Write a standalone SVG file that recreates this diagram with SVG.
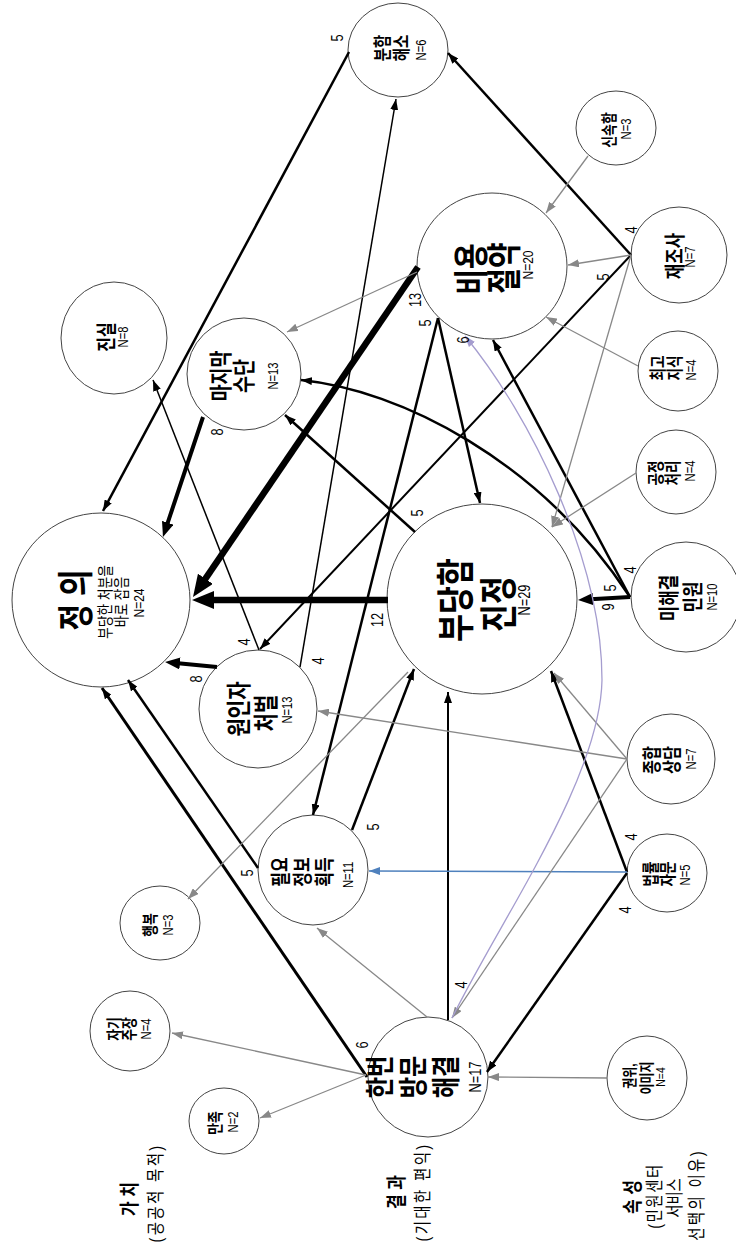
<svg xmlns="http://www.w3.org/2000/svg" width="736" height="1248" viewBox="0 0 736 1248">
<style>
.k{font-family:"Liberation Sans","Noto Sans CJK KR",sans-serif;font-weight:700;text-anchor:middle;fill:#000}
.r{font-family:"Liberation Sans","Noto Sans CJK KR",sans-serif;font-weight:400;text-anchor:middle;fill:#000}
.n{font-family:"Liberation Sans",sans-serif;text-anchor:middle;fill:#000}
.el{font-family:"Liberation Sans",sans-serif;font-size:16px;text-anchor:middle;fill:#000}
.nd{fill:#fff;stroke:#444;stroke-width:1}
.c{fill:none;stroke:#000;stroke-width:2.5}
.g{fill:none;stroke:#888;stroke-width:1.3}
</style>
<defs>
<marker id="ah" viewBox="0 0 11 8" refX="11" refY="4" markerWidth="11" markerHeight="8" markerUnits="userSpaceOnUse" orient="auto"><path d="M0,0 L11,4 L0,8 z" fill="#000"/></marker>
<marker id="ahM" viewBox="0 0 15 12" refX="7" refY="6" markerWidth="15" markerHeight="12" markerUnits="userSpaceOnUse" orient="auto"><path d="M0,0 L15,6 L0,12 z" fill="#000"/></marker>
<marker id="ahB" viewBox="0 0 22 18" refX="8" refY="9" markerWidth="22" markerHeight="18" markerUnits="userSpaceOnUse" orient="auto"><path d="M0,0 L22,9 L0,18 z" fill="#000"/></marker>
<marker id="ahG" viewBox="0 0 11 8" refX="11" refY="4" markerWidth="11" markerHeight="8" markerUnits="userSpaceOnUse" orient="auto"><path d="M0,0 L11,4 L0,8 z" fill="#888"/></marker>
<marker id="ahBl" viewBox="0 0 11 8" refX="11" refY="4" markerWidth="11" markerHeight="8" markerUnits="userSpaceOnUse" orient="auto"><path d="M0,0 L11,4 L0,8 z" fill="#4f81bd"/></marker>
<marker id="ahP" viewBox="0 0 11 8" refX="11" refY="4" markerWidth="11" markerHeight="8" markerUnits="userSpaceOnUse" orient="auto"><path d="M0,0 L11,4 L0,8 z" fill="#a59dcf"/></marker>
</defs>
<rect width="736" height="1248" fill="#fff"/>

<g id="node-jeongui"><ellipse class="nd" cx="101" cy="600" rx="89" ry="87"/>
<text class="k" font-size="36" transform="translate(89,600) rotate(-90) scale(0.8,1)">정 의</text>
<text class="r" font-size="16" transform="translate(111,602) rotate(-90) scale(0.8,1)">부당한 처분을</text>
<text class="r" font-size="16" transform="translate(127,602) rotate(-90) scale(0.8,1)">바로 잡음</text>
<text class="n" font-size="15" transform="translate(144,603) rotate(-90) scale(0.8,1)">N=24</text></g>

<g id="node-jinsil"><ellipse class="nd" cx="114" cy="338" rx="53" ry="56"/>
<text class="k" font-size="20" transform="translate(114,337) rotate(-90) scale(0.8,1)">진실</text>
<text class="n" font-size="14" transform="translate(128,337) rotate(-90) scale(0.8,1)">N=8</text></g>

<g id="node-majimak"><ellipse class="nd" cx="244" cy="374" rx="57" ry="56"/>
<text class="k" font-size="23" transform="translate(229,376) rotate(-90) scale(0.8,1)">마지막</text>
<text class="k" font-size="23" transform="translate(252,376) rotate(-90) scale(0.8,1)">수단</text>
<text class="n" font-size="14" transform="translate(278,376) rotate(-90) scale(0.8,1)">N=13</text></g>

<g id="node-bunham"><ellipse class="nd" cx="398" cy="50" rx="50" ry="47"/>
<text class="k" font-size="18" transform="translate(389,48) rotate(-90) scale(0.8,1)">분함</text>
<text class="k" font-size="18" transform="translate(408,48) rotate(-90) scale(0.8,1)">해소</text>
<text class="n" font-size="14" transform="translate(426,50) rotate(-90) scale(0.8,1)">N=6</text></g>

<g id="node-wonin"><ellipse class="nd" cx="258" cy="709" rx="59" ry="59"/>
<text class="k" font-size="25" transform="translate(248,709) rotate(-90) scale(0.8,1)">원인자</text>
<text class="k" font-size="25" transform="translate(275,713) rotate(-90) scale(0.8,1)">처벌</text>
<text class="n" font-size="14" transform="translate(292,710) rotate(-90) scale(0.8,1)">N=13</text></g>

<g id="node-piryo"><ellipse class="nd" cx="313" cy="870" rx="55" ry="55"/>
<text class="k" font-size="20" transform="translate(288,872) rotate(-90) scale(0.8,1)">필요</text>
<text class="k" font-size="20" transform="translate(310,872) rotate(-90) scale(0.8,1)">정보</text>
<text class="k" font-size="20" transform="translate(332,872) rotate(-90) scale(0.8,1)">획득</text>
<text class="n" font-size="14" transform="translate(353,875) rotate(-90) scale(0.8,1)">N=11</text></g>

<g id="node-haengbok"><ellipse class="nd" cx="160" cy="923" rx="40" ry="37"/>
<text class="k" font-size="16" transform="translate(156,925) rotate(-90) scale(0.8,1)">행복</text>
<text class="n" font-size="14" transform="translate(173,925) rotate(-90) scale(0.8,1)">N=3</text></g>

<g id="node-jagi"><ellipse class="nd" cx="130" cy="1031" rx="40" ry="40"/>
<text class="k" font-size="16" transform="translate(120,1029) rotate(-90) scale(0.8,1)">자기</text>
<text class="k" font-size="16" transform="translate(135,1029) rotate(-90) scale(0.8,1)">주장</text>
<text class="n" font-size="14" transform="translate(151,1029) rotate(-90) scale(0.8,1)">N=4</text></g>

<g id="node-manjok"><ellipse class="nd" cx="224" cy="1121" rx="35" ry="33"/>
<text class="k" font-size="16" transform="translate(221,1123) rotate(-90) scale(0.8,1)">만족</text>
<text class="n" font-size="14" transform="translate(238,1122) rotate(-90) scale(0.8,1)">N=2</text></g>

<g id="node-hanbeon"><ellipse class="nd" cx="428" cy="1077" rx="60" ry="60"/>
<text class="k" font-size="29" transform="translate(391,1077) rotate(-90) scale(0.8,1)">한번</text>
<text class="k" font-size="29" transform="translate(424,1077) rotate(-90) scale(0.8,1)">방문</text>
<text class="k" font-size="29" transform="translate(457,1077) rotate(-90) scale(0.8,1)">해결</text>
<text class="n" font-size="16" transform="translate(481,1077) rotate(-90) scale(0.8,1)">N=17</text></g>

<g id="node-budang"><ellipse class="nd" cx="482" cy="599" rx="95" ry="95"/>
<text class="k" font-size="38" transform="translate(469,600) rotate(-90) scale(0.8,1)">부당함</text>
<text class="k" font-size="38" transform="translate(512,604) rotate(-90) scale(0.8,1)">진정</text>
<text class="n" font-size="16" transform="translate(530,600) rotate(-90) scale(0.8,1)">N=29</text></g>

<g id="node-biyong"><ellipse class="nd" cx="492" cy="266" rx="75" ry="73"/>
<text class="k" font-size="35" transform="translate(484,269) rotate(-90) scale(0.8,1)">비용</text>
<text class="k" font-size="35" transform="translate(517,268) rotate(-90) scale(0.8,1)">절약</text>
<text class="n" font-size="15" transform="translate(533,265) rotate(-90) scale(0.8,1)">N=20</text></g>

<g id="node-sinsok"><ellipse class="nd" cx="616" cy="128" rx="40" ry="37"/>
<text class="k" font-size="16" transform="translate(615,130) rotate(-90) scale(0.8,1)">신속함</text>
<text class="n" font-size="14" transform="translate(631,129) rotate(-90) scale(0.8,1)">N=3</text></g>

<g id="node-jaejosa"><ellipse class="nd" cx="679" cy="255" rx="48" ry="48"/>
<text class="k" font-size="21" transform="translate(682,256) rotate(-90) scale(0.8,1)">재조사</text>
<text class="n" font-size="14" transform="translate(695,257) rotate(-90) scale(0.8,1)">N=7</text></g>

<g id="node-choego"><ellipse class="nd" cx="678" cy="371" rx="40" ry="40"/>
<text class="k" font-size="17" transform="translate(664,368) rotate(-90) scale(0.8,1)">최고</text>
<text class="k" font-size="17" transform="translate(681,368) rotate(-90) scale(0.8,1)">지식</text>
<text class="n" font-size="14" transform="translate(696,370) rotate(-90) scale(0.8,1)">N=4</text></g>

<g id="node-gongjeong"><ellipse class="nd" cx="676" cy="472" rx="40" ry="42"/>
<text class="k" font-size="17" transform="translate(662,473) rotate(-90) scale(0.8,1)">공정</text>
<text class="k" font-size="17" transform="translate(679,473) rotate(-90) scale(0.8,1)">처리</text>
<text class="n" font-size="14" transform="translate(695,471) rotate(-90) scale(0.8,1)">N=4</text></g>

<g id="node-mihaegyeol"><ellipse class="nd" cx="686" cy="597" rx="55" ry="55"/>
<text class="k" font-size="21" transform="translate(676,598) rotate(-90) scale(0.8,1)">미해결</text>
<text class="k" font-size="21" transform="translate(700,597) rotate(-90) scale(0.8,1)">민원</text>
<text class="n" font-size="14" transform="translate(717,597) rotate(-90) scale(0.8,1)">N=10</text></g>

<g id="node-jonghap"><ellipse class="nd" cx="671" cy="759" rx="44" ry="45"/>
<text class="k" font-size="19" transform="translate(659,760) rotate(-90) scale(0.8,1)">종합</text>
<text class="k" font-size="19" transform="translate(679,760) rotate(-90) scale(0.8,1)">상담</text>
<text class="n" font-size="14" transform="translate(696,759) rotate(-90) scale(0.8,1)">N=7</text></g>

<g id="node-beomryul"><ellipse class="nd" cx="667" cy="873" rx="40" ry="39"/>
<text class="k" font-size="17" transform="translate(657,874) rotate(-90) scale(0.8,1)">법률</text>
<text class="k" font-size="17" transform="translate(674,874) rotate(-90) scale(0.8,1)">자문</text>
<text class="n" font-size="14" transform="translate(690,875) rotate(-90) scale(0.8,1)">N=5</text></g>

<g id="node-gwonwi"><ellipse class="nd" cx="647" cy="1078" rx="40" ry="42"/>
<text class="k" font-size="15" transform="translate(635,1076) rotate(-90) scale(0.8,1)">권위,</text>
<text class="k" font-size="15" transform="translate(652,1078) rotate(-90) scale(0.8,1)">이미지</text>
<text class="n" font-size="13" transform="translate(665,1077) rotate(-90) scale(0.8,1)">N=4</text></g>

<g id="connectors">
<path class="c" d="M349,52 L103,511" marker-end="url(#ah)"/>
<path class="c" d="M631,255 L448,53" marker-end="url(#ah)"/>
<path class="c" style="stroke-width:2" d="M631,255 L260,649" marker-end="url(#ah)"/>
<path class="c" style="stroke-width:6.5" d="M418,267 L200.9,585.4" marker-end="url(#ahB)"/>
<path class="c" d="M438,318 L313,815" marker-end="url(#ah)"/>
<path class="c" d="M438,318 L480,503" marker-end="url(#ah)"/>
<path class="c" style="stroke-width:4" d="M203,417 L165.5,529.4" marker-end="url(#ahM)"/>
<path class="c" style="stroke-width:1.5" d="M259,650 L153,380" marker-end="url(#ah)"/>
<path class="c" style="stroke-width:1.5" d="M300,667 L396,99" marker-end="url(#ah)"/>
<path class="c" style="stroke-width:4" d="M217,667 L173,662.8" marker-end="url(#ahM)"/>
<path class="c" style="stroke-width:6.5" d="M388,600 L206,600" marker-end="url(#ahB)"/>
<path class="c" d="M415,532 L285,415" marker-end="url(#ah)"/>
<path class="c" style="stroke-width:4" d="M630,597 L586,599.5" marker-end="url(#ahM)"/>
<path class="c" d="M630,597 L493,340" marker-end="url(#ah)"/>
<path class="c" d="M630,597 C540,460 400,390 301,380" marker-end="url(#ah)"/>
<path class="c" d="M258,868 L128,680" marker-end="url(#ah)"/>
<path class="c" d="M352,830 L414,669" marker-end="url(#ah)"/>
<path class="c" style="stroke-width:3" d="M367,1077 L102,688" marker-end="url(#ah)"/>
<path class="c" style="stroke-width:2" d="M448,1020 L448,692" marker-end="url(#ah)"/>
<path class="c" d="M627,872 L551,671" marker-end="url(#ah)"/>
<path class="c" d="M627,873 L487,1072" marker-end="url(#ah)"/>
<path fill="none" stroke="#4f81bd" stroke-width="1.5" d="M627,872 L369,871" marker-end="url(#ahBl)"/>
<path class="g" d="M588,156 L546,213" marker-end="url(#ahG)"/>
<path class="g" d="M631,255 L568,265" marker-end="url(#ahG)"/>
<path class="g" d="M638,366 L546,317" marker-end="url(#ahG)"/>
<path class="g" d="M631,255 L552,527" marker-end="url(#ahG)"/>
<path class="g" d="M636,473 L552,527" marker-end="url(#ahG)"/>
<path class="g" d="M417,272 L287,332" marker-end="url(#ahG)"/>
<path class="g" d="M627,759 L318,711" marker-end="url(#ahG)"/>
<path class="g" d="M627,759 L554,673" marker-end="url(#ahG)"/>
<path class="g" d="M627,759 L452,1018" marker-end="url(#ahG)"/>
<path class="g" d="M408,672 L188,899" marker-end="url(#ahG)"/>
<path class="g" d="M427,1017 L317,928" marker-end="url(#ahG)"/>
<path class="g" d="M366,1075 L172,1033" marker-end="url(#ahG)"/>
<path class="g" d="M366,1075 L260,1118" marker-end="url(#ahG)"/>
<path class="g" d="M607,1078 L488,1077" marker-end="url(#ahG)"/>
<path fill="none" stroke="#a59dcf" stroke-width="1.3" d="M452,1018 C500,920 600,780 602,680 C602,560 530,415 465,336" marker-end="url(#ahP)"/>
</g>

<g id="edge-labels">
<text class="el" transform="translate(342.7,38) rotate(-90) scale(0.8,1)">5</text>
<text class="el" transform="translate(636.7,230) rotate(-90) scale(0.8,1)">4</text>
<text class="el" transform="translate(608.7,277) rotate(-90) scale(0.8,1)">5</text>
<text class="el" transform="translate(420.7,300) rotate(-90) scale(0.8,1)">13</text>
<text class="el" transform="translate(430.7,323) rotate(-90) scale(0.8,1)">5</text>
<text class="el" transform="translate(468.7,340) rotate(-90) scale(0.8,1)">6</text>
<text class="el" transform="translate(222.7,432) rotate(-90) scale(0.8,1)">8</text>
<text class="el" transform="translate(422.7,513) rotate(-90) scale(0.8,1)">5</text>
<text class="el" transform="translate(635.7,570) rotate(-90) scale(0.8,1)">4</text>
<text class="el" transform="translate(615.7,588) rotate(-90) scale(0.8,1)">5</text>
<text class="el" transform="translate(613.7,607) rotate(-90) scale(0.8,1)">9</text>
<text class="el" transform="translate(382.7,620) rotate(-90) scale(0.8,1)">12</text>
<text class="el" transform="translate(249.7,642) rotate(-90) scale(0.8,1)">4</text>
<text class="el" transform="translate(323.7,661) rotate(-90) scale(0.8,1)">4</text>
<text class="el" transform="translate(201.7,679) rotate(-90) scale(0.8,1)">8</text>
<text class="el" transform="translate(378.7,827) rotate(-90) scale(0.8,1)">5</text>
<text class="el" transform="translate(636.7,837) rotate(-90) scale(0.8,1)">4</text>
<text class="el" transform="translate(252.7,873) rotate(-90) scale(0.8,1)">5</text>
<text class="el" transform="translate(630.7,910) rotate(-90) scale(0.8,1)">4</text>
<text class="el" transform="translate(466.7,985) rotate(-90) scale(0.8,1)">4</text>
<text class="el" transform="translate(367.7,1045) rotate(-90) scale(0.8,1)">6</text>
</g>

<g id="category-labels">
<text class="k" font-size="20" transform="translate(137,1199) rotate(-90) scale(0.8,1)">가 치</text>
<text class="r" font-size="18" letter-spacing="3" transform="translate(162,1193) rotate(-90) scale(0.8,1)">(공공적 목적)</text>
<text class="k" font-size="20" transform="translate(404,1192) rotate(-90) scale(0.8,1)">결 과</text>
<text class="r" font-size="18" letter-spacing="3" transform="translate(429,1192) rotate(-90) scale(0.8,1)">(기대한 편익)</text>
<text class="k" font-size="20" transform="translate(640,1197) rotate(-90) scale(0.8,1)">속 성</text>
<text class="r" font-size="18" letter-spacing="2" transform="translate(661,1196) rotate(-90) scale(0.8,1)">(민원센터</text>
<text class="r" font-size="18" transform="translate(681,1198) rotate(-90) scale(0.8,1)">서비스</text>
<text class="r" font-size="18" letter-spacing="3" transform="translate(703,1195) rotate(-90) scale(0.8,1)">선택의 이유)</text>
</g>
</svg>
